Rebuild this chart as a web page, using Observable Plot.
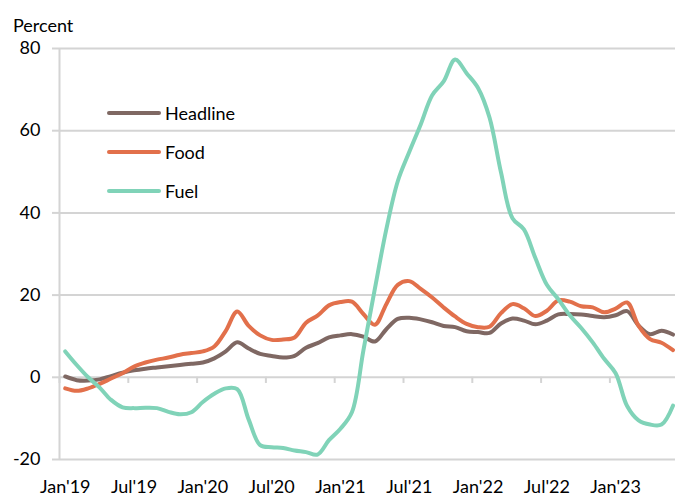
<!DOCTYPE html>
<html>
<head>
<meta charset="utf-8">
<script src="https://cdn.jsdelivr.net/npm/d3@7"></script>
<script src="https://cdn.jsdelivr.net/npm/@observablehq/plot@0.6"></script>
<style>
  html, body { margin: 0; padding: 0; background: #fff; }
  #wrap { position: relative; width: 675px; height: 496px; font-family: Lato, "Open Sans", sans-serif; color: #000; }
  #ylab { position: absolute; left: 13px; top: 13px; font-size: 18px; line-height: 24px; }
  #legend { position: absolute; left: 107px; top: 101px; font-size: 18px; }
  .row { display: flex; align-items: center; height: 24px; margin-bottom: 15px; }
  .sw { width: 54px; height: 4px; border-radius: 2px; margin-right: 4px; }
</style>
</head>
<body>
<div id="wrap">
  <div id="chart"></div>
  <div id="ylab">Percent</div>
  <div id="legend"></div>
</div>
<script>
// Monthly, Jan'19 .. Jun'23
const seriesNames = ["Headline", "Food", "Fuel"];
const seriesColors = ["#7f6863", "#e2704b", "#80d3b8"];

const headline = [0.2, -0.7, -0.8, -0.5, 0.3, 1.1, 1.7, 2.1, 2.4, 2.7, 3.0, 3.3,
  3.6, 4.6, 6.3, 8.5, 7.0, 5.7, 5.2, 4.8, 5.2, 7.2, 8.3, 9.7,
  10.2, 10.5, 9.9, 8.7, 11.7, 14.2, 14.5, 14.1, 13.4, 12.5, 12.2, 11.2,
  11.0, 10.8, 13.1, 14.3, 13.8, 12.9, 13.8, 15.3, 15.4, 15.3, 14.9, 14.6,
  15.1, 16.1, 12.6, 10.5, 11.3, 10.4];

const food = [-2.7, -3.3, -2.7, -1.6, -0.3, 1.0, 2.6, 3.6, 4.3, 4.8, 5.5, 5.9,
  6.3, 7.5, 11.3, 16.0, 12.5, 10.2, 9.1, 9.2, 9.7, 13.3, 15.0, 17.5,
  18.3, 18.4, 15.4, 12.8, 17.8, 22.5, 23.4, 21.5, 19.4, 17.0, 14.8, 13.0,
  12.2, 12.3, 15.6, 17.8, 16.8, 14.9, 16.2, 18.7, 18.4, 17.3, 17.0, 15.8,
  16.7, 18.2, 12.5, 9.3, 8.4, 6.6];

const fuel = [6.3, 3.0, 0.0, -2.5, -5.5, -7.3, -7.5, -7.4, -7.5, -8.4, -9.0, -8.5,
  -6.0, -4.0, -2.7, -2.9, -10.3, -16.5, -17.0, -17.2, -17.8, -18.2, -18.8, -15.3,
  -12.5, -8.5, 6.5, 21.5, 36.0, 47.7, 54.8, 61.5, 68.6, 72.0, 77.3, 74.0,
  70.4, 63.2, 49.9, 38.7, 36.0, 29.0, 22.5, 19.0, 15.1, 12.0, 8.5, 4.5,
  1.0, -7.0, -10.5, -11.5, -11.5, -6.9];

const tickLabels = ["Jan'19", "Jul'19", "Jan'20", "Jul'20", "Jan'21", "Jul'21", "Jan'22", "Jul'22", "Jan'23"];
const yTicks = [-20, 0, 20, 40, 60, 80];

const seriesValues = [headline, food, fuel];
const data = [];
seriesValues.forEach((vals, s) => vals.forEach((v, i) => data.push({i, v, series: seriesNames[s]})));

const tickIdx = tickLabels.map((_, k) => k * 6);
const boundaries = tickIdx.map(d => d - 0.5);
const nMonths = headline.length;

const grid = "#d4d4d4";
const chart = Plot.plot({
  width: 675,
  height: 496,
  marginLeft: 59,
  marginRight: 0,
  marginTop: 48,
  marginBottom: 37,
  style: { fontFamily: "Lato, 'Open Sans', sans-serif", fontSize: "18px", color: "#000", background: "#fff" },
  x: { type: "linear", domain: [-0.5, nMonths - 0.78] },
  y: { domain: [-20, 80] },
  color: { domain: seriesNames, range: seriesColors },
  marks: [
    Plot.ruleY(yTicks, { stroke: grid, strokeWidth: 2 }),
    Plot.ruleX([-0.5], { stroke: grid, strokeWidth: 2 }),
    Plot.ruleX(boundaries, { x: d => d, y1: 0, y2: -1.5, stroke: grid, strokeWidth: 2 }),
    Plot.axisY({ ticks: yTicks, tickFormat: d => String(d), tickSize: 7, tickPadding: 12, stroke: grid, strokeWidth: 2, fill: "#000", fontSize: 18, label: null }),
    Plot.axisX({ ticks: tickIdx, tickFormat: d => tickLabels[d / 6], tickSize: 0, tickPadding: 21, fill: "#000", fontSize: 18, label: null }),
    Plot.line(data, { x: "i", y: "v", z: "series", stroke: "series", strokeWidth: 4, curve: "catmull-rom", strokeLinecap: "round", strokeLinejoin: "round" })
  ]
});
document.getElementById("chart").appendChild(chart);

const legend = document.getElementById("legend");
seriesNames.forEach((name, s) => {
  const row = document.createElement("div");
  row.className = "row";
  const sw = document.createElement("div");
  sw.className = "sw";
  sw.style.background = seriesColors[s];
  const t = document.createElement("span");
  t.textContent = name;
  row.appendChild(sw);
  row.appendChild(t);
  legend.appendChild(row);
});
</script>
</body>
</html>
